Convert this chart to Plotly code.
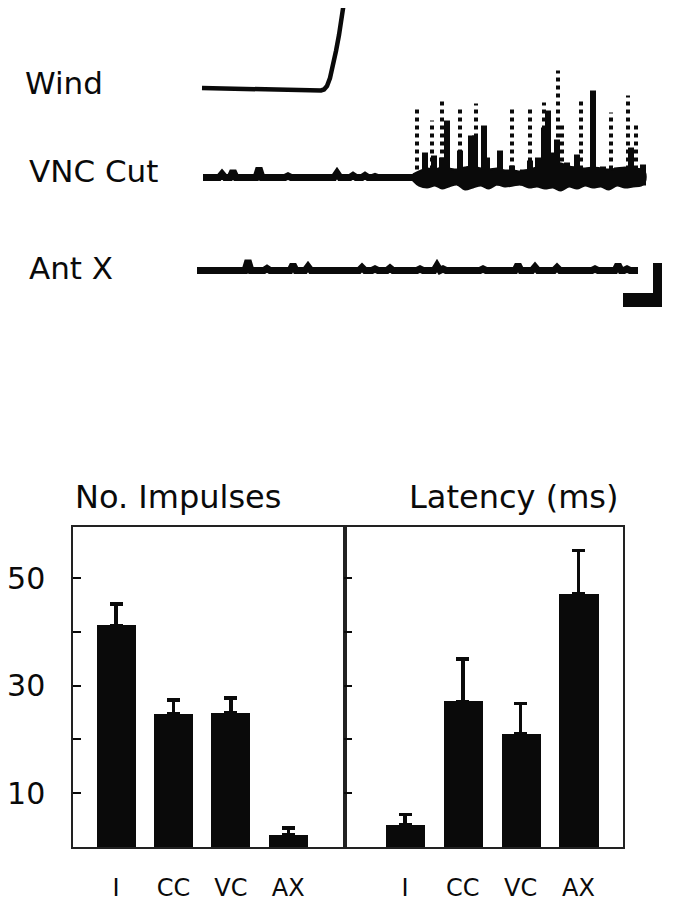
import plotly.graph_objects as go

W, H = 673, 900
PAD = 8  # the page body adds an 8px margin around the figure
FONT = "DejaVu Sans"
INK = "#0a0a0a"

# ---- bar chart data (mean + SEM) ----
groups = ["I", "CC", "VC", "AX"]
impulses = [41.2, 24.7, 24.9, 2.2]
impulses_err = [4.0, 2.6, 2.8, 1.3]
latency = [4.1, 27.1, 21.1, 47.0]
latency_err = [1.9, 7.9, 5.6, 8.1]
ytick_vals = [10, 20, 30, 40, 50]
ytick_text = ["10", "", "30", "", "50"]

# ---- recordings: time (ms from sweep start), amplitude (arb. units) ----
wind_t = [5, 60, 124, 127, 130, 133, 136, 139, 142, 144, 146, 147]
wind_amp = [0, -1.5, -2.5, -1.5, 2, 10, 22, 37, 53, 68, 81, 86]

vnc_span = [6, 448]
vnc_bump_t = [25, 36, 51, 62, 91, 100, 140, 156, 168, 178, 186]
vnc_bump_amp = [3.5, 6.5, 1, 9.5, 1.5, 1, 4.5, 2, 2, 1, 1]
vnc_band_t = [216, 222, 230, 238, 245, 252, 260, 268, 276, 284, 292, 300, 308, 316,
              324, 332, 340, 348, 356, 364, 372, 380, 388, 396, 404, 412, 420, 428,
              436, 444, 448]
vnc_band_hi = [3, 6, 9, 8, 10, 9, 8, 10, 11, 9, 8, 9, 7, 7, 6, 8, 10, 13, 15, 14, 11,
               10, 9, 10, 9, 8, 9, 10, 9, 8, 5]
vnc_band_lo = [-3, -8, -10, -8, -11, -9, -7, -12, -10, -8, -11, -7, -9, -8, -7, -10,
               -9, -11, -10, -13, -9, -11, -8, -10, -9, -12, -8, -10, -9, -8, -4]
vnc_burst_t = [228, 237, 245, 250, 263, 274, 278, 287, 290, 303, 315, 326, 333, 341,
               347, 351, 355, 360, 370, 380, 396, 406, 420, 434, 446]
vnc_burst_amp = [25, 22, 20, 57, 27, 42, 42, 52, 20, 27, 12, 8, 17, 20, 50, 67, 25,
                 38, 15, 23, 87, 11, 10, 30, 13]
vnc_spike_t = [220, 235, 245, 263, 279, 315, 333, 347, 361, 365, 384, 396, 414, 431, 439]
vnc_spike_amp = [70, 57, 80, 72, 74, 70, 70, 75, 107, 55, 77, 87, 65, 82, 55]

ant_span = [0, 441]
ant_bump_t = [51, 70, 96, 111, 153, 165, 178, 193, 223, 240, 246, 286, 321, 338, 360,
              398, 421, 430]
ant_bump_amp = [10, 2, 6, 4, 1.5, 3, 1.5, 2.5, 1.5, 5, 1.5, 1.5, 6, 3.5, 3, 1.5, 6, 1.5]

# scale bar (time, amplitude)
scale_t, scale_amp = 39, 44

# vertical stacking of the three sweeps on the trace axis
wind_off, vnc_off, ant_off = 232, 142.5, 49.5
scale_corner = (465, 13)


def px_x(px):
    return (px - PAD) / W


def px_y(py):
    return 1 - (py - PAD) / H


def bumpy(span, bt, ba, off, half=3):
    xs, ys = [span[0]], [off]
    for t, a in zip(bt, ba):
        xs += [t - half, t, t + half]
        ys += [off, off + a, off]
    xs.append(span[1])
    ys.append(off)
    return xs, ys


def sticks(ts, amps, off, start):
    xs, ys = [], []
    for t, a in zip(ts, amps):
        xs += [t, t, None]
        ys += [off + start, off + a, None]
    return xs, ys


fig = go.Figure()

line_kw = dict(mode="lines", hoverinfo="skip", showlegend=False, xaxis="x3", yaxis="y3")

# wind stimulus
fig.add_trace(go.Scatter(x=wind_t, y=[wind_off + a for a in wind_amp],
                         line=dict(color=INK, width=4.5), **line_kw))

# VNC cut recording
x, y = bumpy(vnc_span, vnc_bump_t, vnc_bump_amp, vnc_off)
fig.add_trace(go.Scatter(x=x, y=y, line=dict(color=INK, width=7), **line_kw))
fig.add_trace(go.Scatter(x=vnc_band_t + vnc_band_t[::-1],
                         y=[vnc_off + v for v in vnc_band_hi + vnc_band_lo[::-1]],
                         fill="toself", fillcolor=INK,
                         line=dict(color=INK, width=2, shape="spline"), **line_kw))
x, y = sticks(vnc_burst_t, vnc_burst_amp, vnc_off, -8)
fig.add_trace(go.Scatter(x=x, y=y, line=dict(color=INK, width=6), **line_kw))
x, y = sticks(vnc_spike_t, vnc_spike_amp, vnc_off, 0)
fig.add_trace(go.Scatter(x=x, y=y, line=dict(color=INK, width=4, dash="dot"), **line_kw))

# antenna ablated recording
x, y = bumpy(ant_span, ant_bump_t, ant_bump_amp, ant_off)
fig.add_trace(go.Scatter(x=x, y=y, line=dict(color=INK, width=7), **line_kw))

# scale bar
ct, ca = scale_corner
fig.add_trace(go.Scatter(x=[ct - scale_t, ct], y=[ca + 7, ca + 7],
                         line=dict(color=INK, width=14), **line_kw))
fig.add_trace(go.Scatter(x=[ct - 4.5, ct - 4.5], y=[ca, ca + scale_amp],
                         line=dict(color=INK, width=9), **line_kw))

# bar charts
err_kw = dict(type="data", symmetric=False, color=INK, thickness=3.5, width=6.5)
fig.add_trace(go.Bar(x=groups, y=impulses, width=0.68, marker=dict(color=INK, line_width=0),
                     error_y=dict(array=impulses_err, arrayminus=[0] * 4, **err_kw),
                     showlegend=False, xaxis="x", yaxis="y"))
fig.add_trace(go.Bar(x=groups, y=latency, width=0.68, marker=dict(color=INK, line_width=0),
                     error_y=dict(array=latency_err, arrayminus=[0] * 4, **err_kw),
                     showlegend=False, xaxis="x2", yaxis="y2"))

ybot, ytop = px_y(847), px_y(527)
xl0, xmid, xr1 = px_x(73), px_x(344.5), px_x(623)

axis_line = dict(showline=True, mirror=True, linecolor="#222", linewidth=1.5,
                 showgrid=False, zeroline=False)
xtick_kw = dict(ticks="", tickfont=dict(family=FONT, size=24, color=INK),
                ticklabelstandoff=18)
ytick_kw = dict(range=[0, 59.5], tickvals=ytick_vals, ticks="inside", ticklen=8,
                tickwidth=1.5, tickcolor=INK)

fig.update_layout(
    width=W, height=H, margin=dict(l=0, r=0, t=0, b=0),
    paper_bgcolor="white", plot_bgcolor="white", bargap=0,
    font=dict(family=FONT, color=INK),
    xaxis=dict(domain=[xl0, xmid], range=[-0.75, 3.98], **axis_line, **xtick_kw),
    yaxis=dict(domain=[ybot, ytop], ticktext=ytick_text,
               tickfont=dict(family=FONT, size=30, color=INK),
               ticklabelstandoff=20, **ytick_kw, **axis_line),
    xaxis2=dict(domain=[xmid, xr1], range=[-1.047, 3.77], anchor="y2",
                **axis_line, **xtick_kw),
    yaxis2=dict(domain=[ybot, ytop], anchor="x2", showticklabels=False,
                **ytick_kw, **axis_line),
    # trace axis: t = screen px - 197, value = 320 - screen py
    xaxis3=dict(domain=[0, 1], range=[PAD - 197, PAD + W - 197], visible=False,
                anchor="y3"),
    yaxis3=dict(domain=[px_y(320), 1], range=[0, 320 - PAD], visible=False,
                anchor="x3"),
)

ann = [
    ("Wind", 23, 82.5, "left", 31),
    ("VNC Cut", 27, 171, "left", 31),
    ("Ant X", 27, 268.5, "left", 31),
    ("No. Impulses", 73, 497, "left", 32),
    ("Latency (ms)", 620, 497, "right", 32),
]
for text, px, py, xa, size in ann:
    fig.add_annotation(text=text, x=px_x(px), y=px_y(py), xref="paper", yref="paper",
                       xanchor=xa, yanchor="middle", showarrow=False,
                       font=dict(family=FONT, size=size, color=INK))

fig.write_html("out.html")
